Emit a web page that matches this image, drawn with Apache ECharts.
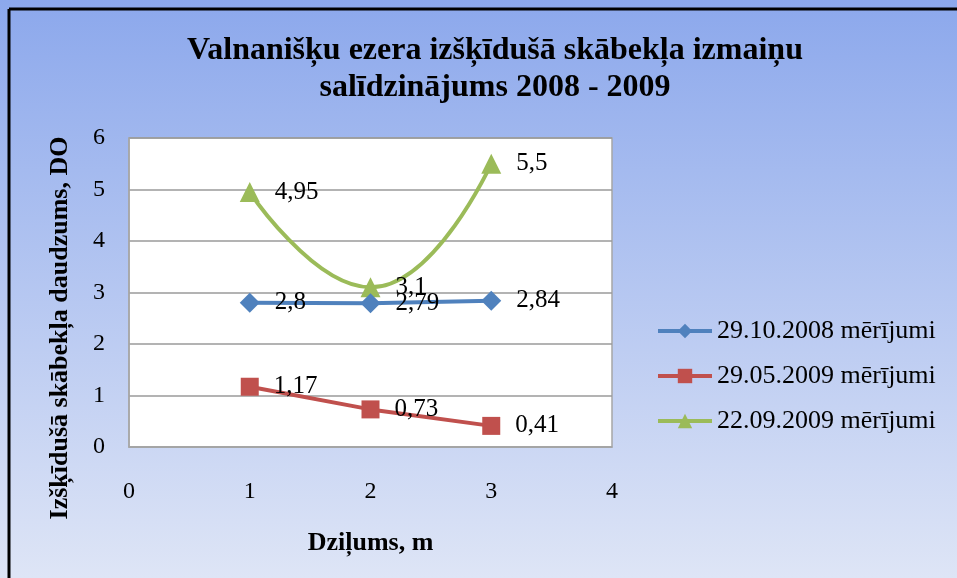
<!DOCTYPE html>
<html>
<head>
<meta charset="utf-8">
<script src="https://cdn.jsdelivr.net/npm/echarts@6/dist/echarts.min.js"></script>
<style>
html,body{margin:0;padding:0;background:#fff;overflow:hidden;}
#c{width:957px;height:578px;}
</style>
</head>
<body>
<div id="c"></div>
<script>
const depths = [1, 2, 3];
const seriesNames = ['29.10.2008 mērījumi', '29.05.2009 mērījumi', '22.09.2009 mērījumi'];
const s2008Oct = [2.8, 2.79, 2.84];
const s2009May = [1.17, 0.73, 0.41];
const s2009Sep = [4.95, 3.1, 5.5];
const xTicks = [0, 1, 2, 3, 4];
const yTicks = [0, 1, 2, 3, 4, 5, 6];

const titleText = 'Valnanišķu ezera izšķīdušā skābekļa izmaiņu\nsalīdzinājums 2008 - 2009';
const xName = 'Dziļums, m';
const yName = 'Izšķīdušā skābekļa daudzums, DO';

const serif = '"Liberation Serif", "Times New Roman", serif';

function pairs(vals) { return depths.map((d, i) => [d, vals[i]]); }

const bgGradient = () => ({
  type: 'linear', x: 0, y: 0, x2: 0, y2: 1,
  colorStops: [{offset: 0, color: '#8CA8EC'}, {offset: 1, color: '#DEE5F6'}]
});

const chart = echarts.init(document.getElementById('c'), null, {renderer: 'canvas'});

const labelCfg = {
  show: true, position: 'right', distance: 15,
  color: '#000', fontFamily: serif, fontSize: 25,
  formatter: p => String(p.value[1]).replace('.', ',')
};

chart.setOption({
  animation: false,
  backgroundColor: bgGradient(),
  title: {
    text: titleText,
    left: 490, top: 27, textAlign: 'center',
    textStyle: {fontFamily: serif, fontWeight: 'bold', fontSize: 32, color: '#000', lineHeight: 37}
  },
  legend: {
    orient: 'vertical', left: 651, top: 313,
    itemWidth: 54, itemHeight: 18, itemGap: 19,
    lineStyle: {width: 4},
    textStyle: {fontFamily: serif, fontSize: 26, color: '#000'},
    data: seriesNames
  },
  grid: {
    left: 129, right: 345, top: 138, bottom: 131,
    show: true, backgroundColor: '#fff', borderColor: '#a6a6a6', borderWidth: 1.5
  },
  xAxis: {
    type: 'value', min: 0, max: 4, interval: 1,
    name: xName, nameLocation: 'middle', nameGap: 83,
    nameTextStyle: {fontFamily: serif, fontWeight: 'bold', fontSize: 26, color: '#000'},
    axisLine: {show: true, lineStyle: {color: '#a6a6a6', width: 1.5}},
    axisTick: {show: false},
    splitLine: {show: false},
    axisLabel: {margin: 33, fontFamily: serif, fontSize: 24, color: '#000',
      formatter: v => xTicks.includes(v) ? String(v) : ''}
  },
  yAxis: {
    type: 'value', min: 0, max: 6, interval: 1,
    axisLine: {show: true, lineStyle: {color: '#a6a6a6', width: 1.5}},
    axisTick: {show: false},
    splitLine: {show: true, lineStyle: {color: '#9a9a9a', width: 1.5}},
    axisLabel: {margin: 24, fontFamily: serif, fontSize: 24, color: '#000',
      formatter: v => yTicks.includes(v) ? String(v) : ''}
  },
  graphic: [
    {
      type: 'rect', shape: {x: 946, y: 0, width: 12, height: 578},
      style: {fill: bgGradient()}
    },
    {
      type: 'text', x: 60, y: 328, rotation: Math.PI / 2,
      style: {text: yName, fontFamily: serif, fontWeight: 'bold', fontSize: 26,
        fill: '#000', align: 'center', verticalAlign: 'middle'}
    },
    {
      type: 'line', shape: {x1: 9, y1: 9, x2: 957, y2: 9},
      style: {stroke: '#000', lineWidth: 3}
    },
    {
      type: 'line', shape: {x1: 9, y1: 9, x2: 9, y2: 578},
      style: {stroke: '#000', lineWidth: 3}
    }
  ],
  series: [
    {
      name: seriesNames[0], type: 'line', data: pairs(s2008Oct),
      symbol: 'diamond', symbolSize: 20,
      itemStyle: {color: '#4F81BD'}, lineStyle: {color: '#4F81BD', width: 4},
      label: labelCfg, z: 3
    },
    {
      name: seriesNames[1], type: 'line', data: pairs(s2009May),
      symbol: 'rect', symbolSize: 18,
      itemStyle: {color: '#C0504D'}, lineStyle: {color: '#C0504D', width: 4},
      label: labelCfg, z: 3
    },
    {
      name: seriesNames[2], type: 'line', data: pairs(s2009Sep), smooth: 0.5,
      symbol: 'triangle', symbolSize: 20,
      itemStyle: {color: '#9BBB59'}, lineStyle: {color: '#9BBB59', width: 4},
      label: labelCfg, z: 2
    }
  ]
});
</script>
</body>
</html>
